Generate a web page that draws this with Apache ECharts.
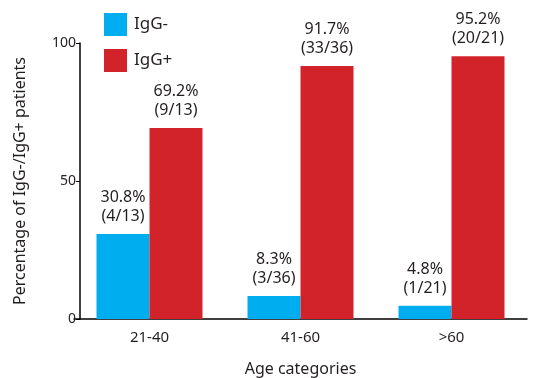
<!DOCTYPE html>
<html>
<head>
<meta charset="utf-8">
<script src="https://cdn.jsdelivr.net/npm/echarts@6/dist/echarts.min.js"></script>
<style>html,body{margin:0;padding:0;background:#fff;}#c{width:544px;height:378px;}</style>
</head>
<body>
<div id="c"></div>
<script>
var categories = ['21-40', '41-60', '>60'];
var negPct = [30.8, 8.3, 4.8];
var posPct = [69.2, 91.7, 95.2];
var negCount = [4, 3, 1];
var posCount = [9, 33, 20];
var totals = [13, 36, 21];
var yTicks = [0, 50, 100];

var FONT = 'Noto Sans';
var chart = echarts.init(document.getElementById('c'), null, {renderer: 'canvas'});
function lbl(pcts, counts) {
  return function (p) {
    return pcts[p.dataIndex].toFixed(1) + '%\n(' + counts[p.dataIndex] + '/' + totals[p.dataIndex] + ')';
  };
}
chart.setOption({
  animation: false,
  textStyle: {fontFamily: FONT},
  legend: {
    orient: 'vertical', left: 99, top: 8,
    itemWidth: 23, itemHeight: 23, itemGap: 13,
    icon: 'rect',
    textStyle: {fontFamily: FONT, fontSize: 17, color: '#231f20', padding: [0, 0, 0, 2]},
    data: ['IgG-', 'IgG+']
  },
  grid: {left: 74, right: 17, top: 43, bottom: 59, containLabel: false, outerBoundsMode: 'none'},
  xAxis: {
    type: 'category', data: categories,
    axisLine: {lineStyle: {color: '#000', width: 1.5}},
    axisTick: {show: false},
    axisLabel: {fontFamily: FONT, fontSize: 15, color: '#231f20', margin: 11},
    name: 'Age categories', nameLocation: 'middle', nameGap: 42,
    nameTextStyle: {fontFamily: FONT, fontSize: 16, color: '#231f20'}
  },
  yAxis: {
    type: 'value', min: 0, max: 100, interval: 50, offset: -6,
    axisLine: {show: true, lineStyle: {color: '#000', width: 1.5}},
    axisTick: {show: true, length: 4, lineStyle: {color: '#000'}},
    splitLine: {show: false},
    axisLabel: {fontFamily: FONT, fontSize: 14, color: '#231f20', margin: 4,
      formatter: function (v) { return yTicks.indexOf(v) >= 0 ? String(v) : ''; }},
    name: 'Percentage of IgG-/IgG+ patients', nameLocation: 'middle', nameGap: 52,
    nameTextStyle: {fontFamily: FONT, fontSize: 16, color: '#231f20'}
  },
  series: [
    {
      name: 'IgG-', type: 'bar', data: negPct, barWidth: 53, barGap: '0%',
      itemStyle: {color: '#00aeef'},
      label: {show: true, position: 'top', distance: 8, formatter: lbl(negPct, negCount),
        fontFamily: FONT, fontSize: 16, lineHeight: 19, color: '#231f20'}
    },
    {
      name: 'IgG+', type: 'bar', data: posPct, barWidth: 53, barGap: '0%',
      itemStyle: {color: '#d2232a'},
      label: {show: true, position: 'top', distance: 8, formatter: lbl(posPct, posCount),
        fontFamily: FONT, fontSize: 16, lineHeight: 19, color: '#231f20'}
    }
  ]
});
</script>
</body>
</html>
